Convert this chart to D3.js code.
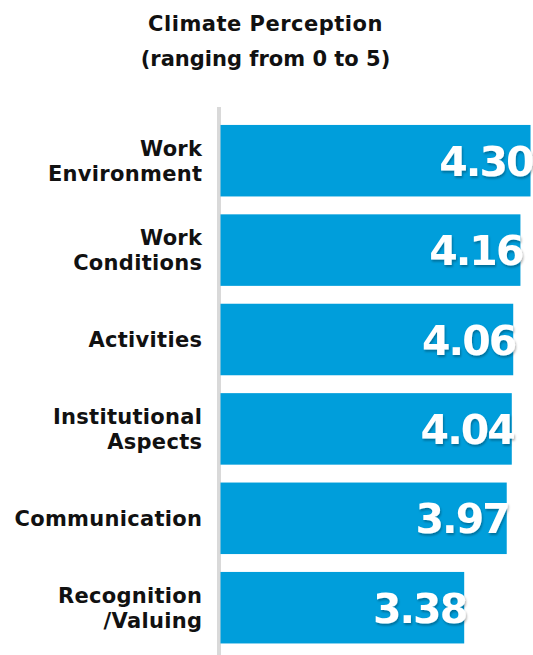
<!DOCTYPE html>
<html><head><meta charset="utf-8">
<script src="https://cdn.jsdelivr.net/npm/d3@7"></script>
<style>body{margin:0;background:#fff;}svg{display:block;}</style>
</head><body>
<svg id="chart" width="533" height="655"></svg>
<script>
const categories = [["Work","Environment"],["Work","Conditions"],["Activities"],["Institutional","Aspects"],["Communication"],["Recognition","/Valuing"]];
const values = [4.30, 4.16, 4.06, 4.04, 3.97, 3.38];
const titleLines = ["Climate Perception","(ranging from 0 to 5)"];

const svg = d3.select("#chart");
const font = "'DejaVu Sans', sans-serif";
const x0 = 220.5;
const x = d3.scaleLinear().domain([0, 5]).range([x0, x0 + 5*72.1]);
const y = d3.scaleBand().domain(d3.range(categories.length)).range([116, 652.4]).paddingInner(0.2).paddingOuter(0.1);

const defs = svg.append("defs");
const f = defs.append("filter").attr("id","sh").attr("x","-10%").attr("y","-10%").attr("width","130%").attr("height","130%");
f.append("feDropShadow").attr("dx",1).attr("dy",2).attr("stdDeviation",1.2).attr("flood-color","#000").attr("flood-opacity",0.3);

svg.selectAll("text.title").data(titleLines).join("text").attr("class","title")
  .attr("x", 265.5).attr("y", (d,i) => 30.5 + i*35)
  .attr("text-anchor","middle").attr("font-family",font).attr("font-weight",700).attr("font-size",21)
  .attr("letter-spacing",(d,i)=> i===0 ? 0.5 : 0)
  .attr("fill","#111").text(d => d);

svg.append("rect").attr("x",217).attr("y",107).attr("width",4).attr("height",548).attr("fill","#d9d9d9");

svg.selectAll("rect.bar").data(values).join("rect").attr("class","bar")
  .attr("x", x(0)).attr("y",(d,i)=>y(i)).attr("width",d=>x(d)-x(0)).attr("height",y.bandwidth())
  .attr("fill","#009edb");

svg.selectAll("text.val").data(values).join("text").attr("class","val")
  .attr("x", d => x(d) + 2).attr("y",(d,i)=>y(i)+y.bandwidth()/2+15)
  .attr("text-anchor","end").attr("font-family",font).attr("font-weight",700).attr("font-size",41)
  .attr("letter-spacing",-2)
  .attr("fill","#fff").attr("filter","url(#sh)").text(d => d.toFixed(2));

const lab = svg.selectAll("text.lab").data(categories).join("text").attr("class","lab")
  .attr("text-anchor","end").attr("font-family",font).attr("font-weight",700).attr("font-size",21)
  .attr("letter-spacing",0.3).attr("fill","#111");
lab.each(function(d,i){
  const t = d3.select(this);
  const cy = y(i)+y.bandwidth()/2;
  const n = d.length;
  d.forEach((line,j)=>{
    t.append("tspan").attr("x",202.3).attr("y", cy + 7.5 + (j-(n-1)/2)*25).text(line);
  });
});
</script>
</body></html>
